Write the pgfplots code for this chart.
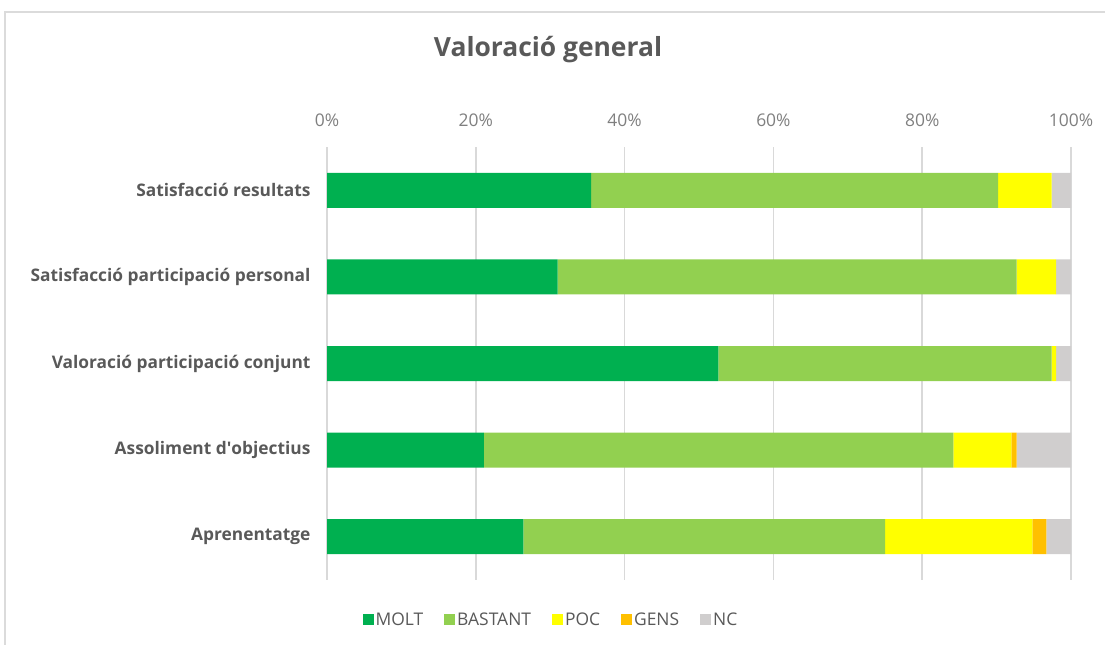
\documentclass[border=0pt]{standalone}
\usepackage{pgfplots}
\pgfplotsset{compat=1.18}
\usepackage{fontspec}
\setmainfont{Open Sans}
\definecolor{molt}{HTML}{00B050}
\definecolor{bastant}{HTML}{92D050}
\definecolor{poc}{HTML}{FFFF00}
\definecolor{gens}{HTML}{FFC000}
\definecolor{nc}{HTML}{D0CECE}
\definecolor{txt}{HTML}{595959}
\definecolor{tick}{HTML}{7F7F7F}
\definecolor{grd}{HTML}{D9D9D9}
\begin{document}
\begin{tikzpicture}[x=1bp,y=1bp]
\useasboundingbox (0,0) rectangle (1105,-645);
\draw[color=grd!90!black!60, line width=1.5bp] (5,-645) -- (5,-12) -- (1105,-12);
\node[font=\fontsize{26.5}{30}\selectfont\bfseries, text=txt] at (548,-50) {Valoració general};
\begin{axis}[
  at={(327bp,-147bp)}, anchor=north west,
  scale only axis, width=744bp, height=433bp,
  xbar stacked, bar width=35bp,
  xmin=0, xmax=100, ymin=-0.5, ymax=4.5, y dir=reverse,
  xtick={0,20,40,60,80,100},
  xticklabels={0\%,20\%,40\%,60\%,80\%,100\%},
  xticklabel pos=top,
  xticklabel style={font=\fontsize{17.5}{20}\selectfont, text=tick, yshift=17bp},
  ytick={0,1,2,3,4},
  yticklabels={Satisfacció resultats, Satisfacció participació personal, Valoració participació conjunt, Assoliment d\textquotesingle objectius, Aprenentatge},
  yticklabel style={font=\fontsize{17.4}{20}\selectfont\bfseries, text=txt, xshift=-13bp},
  axis line style={draw=none},
  major tick length=0pt,
  xmajorgrids, grid style={color=grd, line width=1.5bp},
  legend style={at={(0.301,-0.092)}, anchor=center, draw=none, legend columns=5,
    font=\fontsize{17.5}{20}\selectfont, text=txt,
    /tikz/every even column/.append style={column sep=19bp}},
  legend image code/.code={\fill[#1] (0bp,-5bp) rectangle (11bp,6bp);},
]
\addplot[fill=molt, draw=none] coordinates {(35.5,0) (31.0,1) (52.6,2) (21.1,3) (26.4,4)};
\addplot[fill=bastant, draw=none] coordinates {(54.7,0) (61.7,1) (44.8,2) (63.1,3) (48.6,4)};
\addplot[fill=poc, draw=none] coordinates {(7.2,0) (5.3,1) (0.6,2) (7.8,3) (19.8,4)};
\addplot[fill=gens, draw=none] coordinates {(0,0) (0,1) (0,2) (0.7,3) (1.9,4)};
\addplot[fill=nc, draw=none] coordinates {(2.6,0) (2.0,1) (2.0,2) (7.3,3) (3.3,4)};
\legend{MOLT,BASTANT,POC,GENS,NC}
\end{axis}
\end{tikzpicture}
\end{document}
